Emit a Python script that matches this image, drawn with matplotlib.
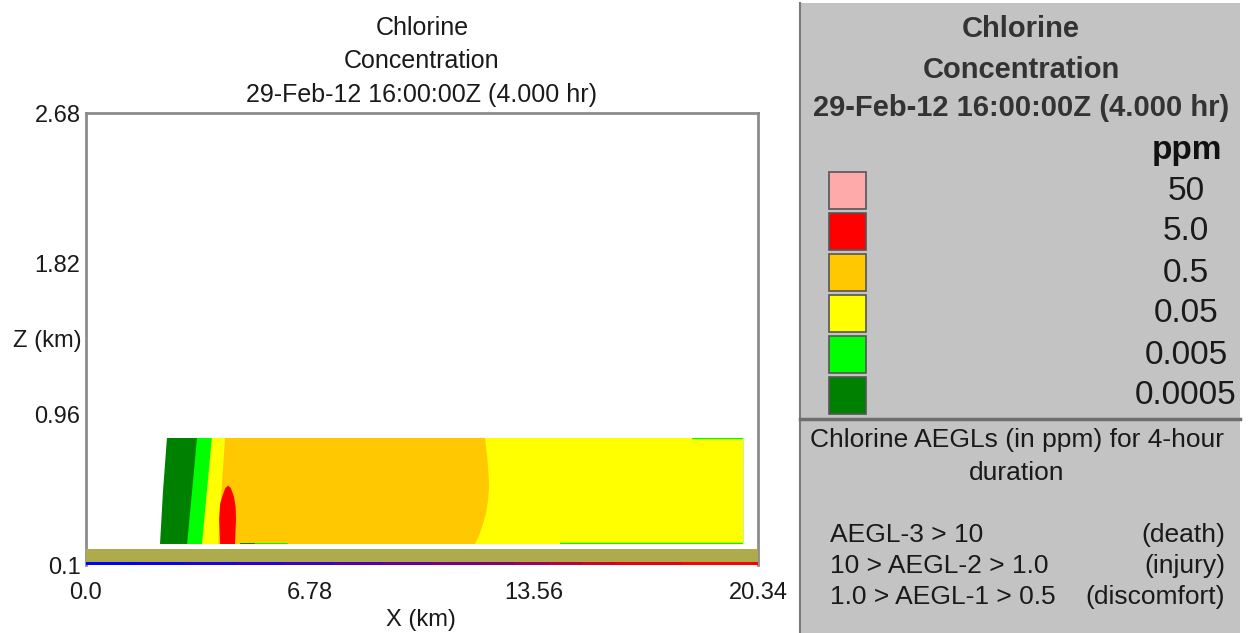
import matplotlib
matplotlib.use("Agg")
import matplotlib.pyplot as plt
from matplotlib.patches import Polygon, Rectangle
from matplotlib.collections import LineCollection

plt.rcParams['font.family'] = ['Liberation Sans', 'DejaVu Sans']

# concentration levels (ppm) and their fill colours
levels = ['50', '5.0', '0.5', '0.05', '0.005', '0.0005']
level_colors = ['#ffaaaa', '#ff0000', '#ffc800', '#ffff00', '#00ff00', '#008000']

# axis ticks
x_ticks = [0.0, 6.78, 13.56, 20.34]
x_ticklabels = ['0.0', '6.78', '13.56', '20.34']
z_ticks = [0.1, 0.96, 1.82, 2.68]
z_ticklabels = ['0.1', '0.96', '1.82', '2.68']

# plume contour outlines, x and z in km
band_0p0005 = [(2.24, 0.22), (2.33, 0.52), (2.45, 0.825), (19.89, 0.825), (19.89, 0.22)]
band_0p005 = [(3.06, 0.22), (3.21, 0.52), (3.36, 0.825), (19.89, 0.825), (19.89, 0.22),
              (5.11, 0.22), (5.11, 0.227), (4.66, 0.227), (4.66, 0.22)]
band_0p05 = [(3.51, 0.22), (3.66, 0.52), (3.81, 0.825), (18.34, 0.825), (18.34, 0.818),
             (19.89, 0.818), (19.89, 0.227), (14.35, 0.227), (14.35, 0.22),
             (6.11, 0.22), (6.11, 0.227), (4.66, 0.227), (4.66, 0.22)]
band_0p5 = [(4.00, 0.22), (4.10, 0.52), (4.21, 0.825), (12.08, 0.825), (12.15, 0.70),
            (12.19, 0.60), (12.20, 0.545), (12.17, 0.47), (12.10, 0.39), (11.99, 0.317),
            (11.88, 0.26), (11.77, 0.22),
            (6.11, 0.22), (6.11, 0.227), (4.66, 0.227), (4.66, 0.22)]
band_5p0 = [(4.06, 0.22), (4.03, 0.36), (4.06, 0.45), (4.14, 0.50), (4.22, 0.54),
            (4.30, 0.553), (4.38, 0.54), (4.48, 0.49), (4.53, 0.43), (4.54, 0.36),
            (4.51, 0.22)]
bands = [(band_0p0005, '#008000'), (band_0p005, '#00ff00'), (band_0p05, '#ffff00'),
         (band_0p5, '#ffc800'), (band_5p0, '#ff0000')]

# terrain strip and ground-level colour line
terrain_x = [0.0, 20.34]
terrain_bottom = 0.112
terrain_top = 0.19
ground_x = [0.0, 1.5, 3.0, 4.5, 6.0, 7.5, 9.0, 10.5, 12.0, 13.0, 14.0, 15.0, 16.0, 18.0, 20.34]
ground_colors = ['#0000ff', '#0a00f8', '#1800ee', '#2800e0', '#3c00cc', '#5000b4', '#64009c',
                 '#780088', '#880070', '#a00058', '#b80040', '#d00028', '#e80010', '#ff0000']

aegl_rows = [('AEGL-3 > 10', '(death)'),
             ('10 > AEGL-2 > 1.0', '(injury)'),
             ('1.0 > AEGL-1 > 0.5', '(discomfort)')]

W, H = 1250, 633
fig = plt.figure(figsize=(W / 100, H / 100), dpi=100)
fig.patch.set_facecolor('white')

# overlay in pixel coordinates for panel and titles
pax = fig.add_axes([0, 0, 1, 1], zorder=0)
pax.set_xlim(0, W)
pax.set_ylim(H, 0)
pax.axis('off')

ax = fig.add_axes([86 / W, (H - 565) / H, 672 / W, 452 / H], zorder=2)
ax.set_xlim(0, 20.34)
ax.set_ylim(0.1, 2.68)
for sp in ax.spines.values():
    sp.set_color('#8c8c8c')
    sp.set_linewidth(2)
ax.spines['bottom'].set_visible(False)
ax.set_xticks(x_ticks)
ax.set_xticklabels(x_ticklabels)
ax.set_yticks(z_ticks)
ax.set_yticklabels(z_ticklabels)
ax.tick_params(length=0, labelsize=17, labelcolor='#1a1a1a')
ax.tick_params(axis='x', pad=12)
ax.tick_params(axis='y', pad=4)

for pts, col in bands:
    ax.add_patch(Polygon(pts, closed=True, facecolor=col, edgecolor='none', zorder=3))

ax.fill_between(terrain_x, terrain_bottom, terrain_top, color='#aeaa4e', lw=0, zorder=4)

# ground line, segments slightly overlapped so no seams show
segs = [[(ground_x[i], 0.106), (ground_x[i + 1] + 0.08, 0.106)] for i in range(len(ground_x) - 1)]
lc = LineCollection(segs, colors=ground_colors, linewidths=3.5, zorder=5, capstyle='butt',
                    antialiased=False)
ax.add_collection(lc)

# axis labels
pax.text(421, 620, 'X (km)', ha='center', va='center', fontsize=17, color='#1a1a1a')
pax.text(82, 341, 'Z (km)', ha='right', va='center', fontsize=17, color='#1a1a1a')

# plot title
for txt, y in zip(['Chlorine', 'Concentration', '29-Feb-12 16:00:00Z (4.000 hr)'], [28, 61, 95]):
    pax.text(422, y, txt, ha='center', va='center', fontsize=18, color='#1a1a1a')

# legend panel
pax.add_patch(Rectangle((800, 3), 440, 640, facecolor='#c3c3c3', edgecolor='none'))
pax.plot([800, 800], [3, H], color='#7a7a7a', lw=1.5)
pax.plot([800, 1240], [419, 419], color='#6e6e6e', lw=2.5)

for txt, y in zip(['Chlorine', 'Concentration', '29-Feb-12 16:00:00Z (4.000 hr)'], [29, 70, 108]):
    pax.text(1021, y, txt, ha='center', va='center', fontsize=21, fontweight='bold', color='#333333')
pax.text(1222, 151, 'ppm', ha='right', va='center', fontsize=24, fontweight='bold', color='#111111')

for i, (lab, col) in enumerate(zip(levels, level_colors)):
    top = 172 + i * 41
    pax.add_patch(Rectangle((829, top), 37, 37, facecolor=col, edgecolor='#555555', lw=1.2))
    pax.text(1186, top + 19, lab, ha='center', va='center', fontsize=24, color='#1a1a1a')

pax.text(1017, 440, 'Chlorine AEGLs (in ppm) for 4-hour', ha='center', va='center', fontsize=19, color='#1a1a1a')
pax.text(1017, 473, 'duration', ha='center', va='center', fontsize=19, color='#1a1a1a')
for i, (left, right) in enumerate(aegl_rows):
    y = 535 + i * 31
    pax.text(830, y, left, ha='left', va='center', fontsize=19, color='#1a1a1a')
    pax.text(1225, y, right, ha='right', va='center', fontsize=19, color='#1a1a1a')

fig.savefig('out.png', dpi=100)
